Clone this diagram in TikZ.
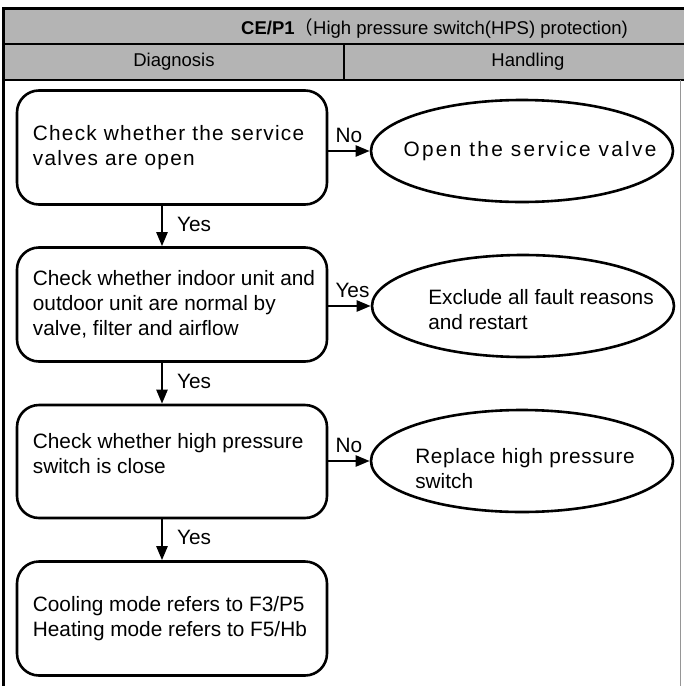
\documentclass[tikz,border=0pt]{standalone}
\usepackage{fontspec}
\setmainfont{Liberation Sans}
\newfontfamily\cjkfont{Noto Sans CJK SC}
\usetikzlibrary{arrows.meta,shapes.geometric}
\definecolor{headgray}{RGB}{180,180,180}
\definecolor{edgegray}{RGB}{150,150,150}
\begin{document}
\begin{tikzpicture}[x=1pt,y=-1pt,
  txt/.style={font=\fontsize{20.8}{25}\selectfont, inner sep=0pt},
  headtxt/.style={font=\fontsize{18.5}{22}\selectfont, inner sep=0pt},
  stepbox/.style={draw, line width=2.6pt, rounded corners=22pt, minimum width=310pt, minimum height=114pt, inner sep=0pt},
  oval/.style={draw, ellipse, line width=2.6pt, minimum width=302pt, minimum height=102pt, inner sep=0pt},
  flow/.style={line width=2.4pt, -{Triangle[length=14pt,width=11pt]}},
  frameline/.style={line width=3pt},
  rowline/.style={line width=2.6pt}]
\useasboundingbox (0,0) rectangle (684,686);
\clip (0,0) rectangle (684,686);
% table header
\fill[headgray] (3,8) rectangle (700,80);
\draw[rowline] (3,44) -- (700,44);
\draw[rowline] (3,80) -- (700,80);
\draw[rowline] (344,44) -- (344,80);
\draw[edgegray, line width=1pt] (680,80) -- (680,690);
\draw[frameline] (700,8) -- (3,8) -- (3,690);
\node[headtxt, anchor=east] (title) at (628,28) {\textbf{CE/P1}{\cjkfont （}High pressure switch(HPS) protection)};
\node[headtxt] (diag) at (174,62) {Diagnosis};
\node[headtxt] (hand) at (528,62) {Handling};
% diagnosis boxes
\node[stepbox] (b1) at (172,147.5) {};
\node[stepbox] (b2) at (172,304.5) {};
\node[stepbox, minimum height=113pt] (b3) at (172,461.5) {};
\node[stepbox] (b4) at (172,618.5) {};
\node[txt, align=left, anchor=west] (t1) at ([xshift=17pt]b1.west) {\addfontfeatures{LetterSpace=6}Check whether the service\\\addfontfeatures{LetterSpace=6}valves are open};
\node[txt, align=left, anchor=west] (t2) at ([xshift=17pt]b2.west) {Check whether indoor unit and\\outdoor unit are normal by\\valve, filter and airflow};
\node[txt, align=left, anchor=west] (t3) at ([xshift=17pt,yshift=8pt]b3.west) {Check whether high pressure\\switch is close};
\node[txt, align=left, anchor=west] (t4) at ([xshift=17pt]b4.west) {Cooling mode refers to F3/P5\\Heating mode refers to F5/Hb};
% handling ovals
\node[oval] (e1) at (522,151) {};
\node[oval] (e2) at (523,306) {};
\node[oval] (e3) at (522,461) {};
\node[txt] (et1) at ([xshift=8pt]e1.center) {\addfontfeatures{LetterSpace=11}Open the service valve};
\node[txt, align=left] (et2) at ([xshift=18pt,yshift=-4pt]e2.center) {Exclude all fault reasons\\and restart};
\node[txt, align=left] (et3) at ([xshift=3pt,yshift=-8pt]e3.center) {\addfontfeatures{LetterSpace=3}Replace high pressure\\switch};
% connectors
\draw[flow] ([xshift=-10pt]b1.south) -- ([xshift=-10pt]b2.north);
\draw[flow] ([xshift=-10pt]b2.south) -- ([xshift=-10pt]b3.north);
\draw[flow] ([xshift=-10pt]b3.south) -- ([xshift=-10pt]b4.north);
\draw[flow] (b1.east |- e1.west) -- (e1.west);
\draw[flow] (b2.east |- e2.west) -- (e2.west);
\draw[flow] (b3.east |- e3.west) -- (e3.west);
% labels
\node[txt, anchor=west] (y1) at (177,224) {Yes};
\node[txt, anchor=west] (y2) at (177,381) {Yes};
\node[txt, anchor=west] (y3) at (177,537) {Yes};
\node[txt, anchor=south west] (n1) at ([xshift=7pt,yshift=8pt]b1.east |- e1.west) {No};
\node[txt, anchor=south west] (y4) at ([xshift=7pt,yshift=8pt]b2.east |- e2.west) {Yes};
\node[txt, anchor=south west] (n3) at ([xshift=7pt,yshift=8pt]b3.east |- e3.west) {No};
\end{tikzpicture}
\end{document}
